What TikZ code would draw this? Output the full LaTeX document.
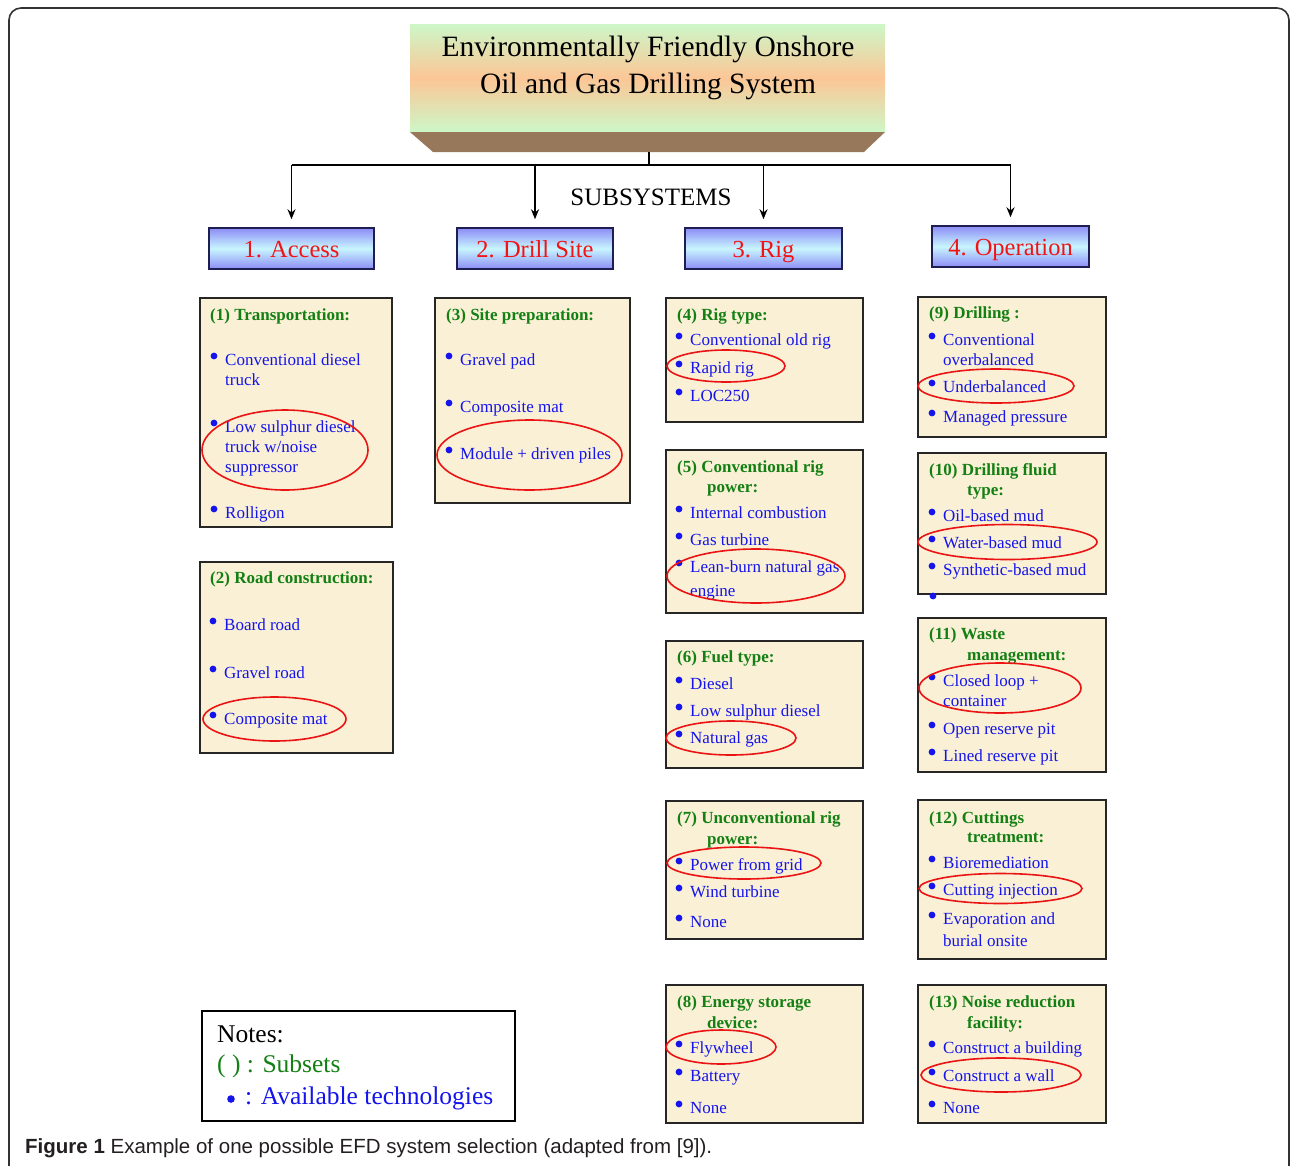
\documentclass[tikz,border=0pt]{standalone}
\usepackage{fontspec}
\setmainfont{Liberation Serif}
\newfontfamily\capfont{Liberation Sans}
\usetikzlibrary{arrows.meta}

\definecolor{subgreen}{RGB}{20,128,20}
\definecolor{techblue}{RGB}{20,20,235}
\definecolor{boxfill}{RGB}{250,240,214}
\definecolor{hdred}{RGB}{240,20,20}
\definecolor{hdblue}{RGB}{140,140,245}
\definecolor{hdcyan}{RGB}{200,246,255}
\definecolor{hdline}{RGB}{30,30,80}
\definecolor{ttlgreen}{RGB}{205,247,200}
\definecolor{ttlorange}{RGB}{252,198,150}
\definecolor{trap}{RGB}{152,120,90}
\definecolor{pickred}{RGB}{235,20,20}
\definecolor{capgray}{RGB}{35,31,32}

\tikzset{
  head/.style={draw=hdline, line width=1.5pt, top color=hdblue, bottom color=hdblue,
    middle color=hdcyan, text=hdred, font=\fontsize{24.5}{26}\selectfont, inner sep=0pt,
    text height=20pt, text depth=3pt},
  subbox/.style={draw=black!85, line width=1.5pt, fill=boxfill, anchor=north west, inner sep=0pt},
  subttl/.style={anchor=west, inner sep=0pt, text height=15pt, text depth=2pt,
    text=subgreen, font=\fontsize{17}{19}\selectfont\bfseries},
  tech/.style={anchor=west, inner sep=0pt, text height=15pt, text depth=2pt,
    text=techblue, font=\fontsize{17}{19}\selectfont},
  pick/.style={draw=pickred, line width=1.6pt},
}

% bullet + item: name, x, y, text
\newcommand{\tech}[4]{\fill[techblue] (#2-11,#3-3) circle (3.4); \node[tech] (#1) at (#2,#3) {#4};}

\begin{document}
\begin{tikzpicture}[x=1pt, y=-1pt, >={Stealth[length=10pt, width=8pt]}]
  \useasboundingbox (0,0) rectangle (1290,1165);
  \draw[line width=1.6pt, draw=black!80, rounded corners=12pt] (9,8) rectangle (1289,1200);

  % title
  \shade[top color=ttlgreen, bottom color=ttlgreen, middle color=ttlorange] (410,24) rectangle (885,132);
  \fill[trap] (410,132) -- (885,132) -- (864,152) -- (433,152) -- cycle;
  \node[align=center, inner sep=0pt, font=\fontsize{29.5}{37}\selectfont] (title) at (648,68)
    {Environmentally Friendly Onshore\\Oil and Gas Drilling System};
  \coordinate (tb) at (649,152);
  \coordinate (bar) at (649,165);

  \node[font=\fontsize{25}{27}\selectfont, inner sep=0pt] (subs) at (651,197) {SUBSYSTEMS};

  % subsystems
  \node[head, minimum width=165, minimum height=41] (h1) at (291.5,248.5) {1. Access};
  \node[head, minimum width=156, minimum height=41] (h2) at (535,248.5) {2. Drill Site};
  \node[head, minimum width=157, minimum height=41] (h3) at (763.5,248.5) {3. Rig};
  \node[head, minimum width=157, minimum height=41] (h4) at (1010.5,246.5) {4. Operation};

  \draw[line width=1.8pt] (tb) -- (bar);
  \draw[line width=1.8pt] (h1.north |- bar) -- (h4.north |- bar);
  \foreach \h in {h1,h2,h3,h4}
    \draw[->, line width=1.8pt, shorten >=8pt] (\h.north |- bar) -- (\h.north);

  % subset boxes
  \node[subbox, minimum width=192, minimum height=229] (s1) at (199,297) {};
  \node[subbox, minimum width=193, minimum height=191] (s2) at (199,561) {};
  \node[subbox, minimum width=195, minimum height=205] (s3) at (434,297) {};
  \node[subbox, minimum width=197, minimum height=124] (s4) at (665,297) {};
  \node[subbox, minimum width=197, minimum height=163] (s5) at (665,449) {};
  \node[subbox, minimum width=197, minimum height=127] (s6) at (665,640) {};
  \node[subbox, minimum width=197, minimum height=138] (s7) at (665,800) {};
  \node[subbox, minimum width=197, minimum height=138] (s8) at (665,984) {};
  \node[subbox, minimum width=188, minimum height=140] (s9) at (917,296) {};
  \node[subbox, minimum width=188, minimum height=141] (s10) at (917,452) {};
  \node[subbox, minimum width=188, minimum height=154] (s11) at (917,617) {};
  \node[subbox, minimum width=188, minimum height=159] (s12) at (917,799) {};
  \node[subbox, minimum width=188, minimum height=138] (s13) at (917,984) {};

  % (1)
  \node[subttl] (t1) at (210,314) {(1) Transportation:};
  \tech{a11}{225}{359}{Conventional diesel}
  \node[tech] (a11b) at (225,379) {truck};
  \tech{a12}{225}{426}{Low sulphur diesel}
  \node[tech] (a12b) at (225,446) {truck w/noise};
  \node[tech] (a12c) at (225,466) {suppressor};
  \tech{a13}{225}{512}{Rolligon}
  \draw[pick] (285,450) ellipse [x radius=83, y radius=40];

  % (2)
  \node[subttl] (t2) at (210,577) {(2) Road construction:};
  \tech{a21}{224}{624}{Board road}
  \tech{a22}{224}{672}{Gravel road}
  \tech{a23}{224}{718}{Composite mat}
  \draw[pick] (274.5,719) ellipse [x radius=71.5, y radius=22];

  % (3)
  \node[subttl] (t3) at (446,314) {(3) Site preparation:};
  \tech{b11}{460}{359}{Gravel pad}
  \tech{b12}{460}{406}{Composite mat}
  \tech{b13}{460}{453}{Module + driven piles}
  \draw[pick] (529.5,455) ellipse [x radius=92.5, y radius=35];

  % (4)
  \node[subttl] (t4) at (677,314) {(4) Rig type:};
  \tech{c11}{690}{339}{Conventional old rig}
  \tech{c12}{690}{367}{Rapid rig}
  \tech{c13}{690}{395}{LOC250}
  \draw[pick] (726,366) ellipse [x radius=59, y radius=16];

  % (5)
  \node[subttl] (t5) at (677,466) {(5) Conventional rig};
  \node[subttl] (t5b) at (707,486) {power:};
  \tech{c21}{690}{512}{Internal combustion}
  \tech{c22}{690}{539}{Gas turbine}
  \tech{c23}{690}{566}{Lean-burn natural gas}
  \node[tech] (c23b) at (690,590) {engine};
  \draw[pick] (756,576) ellipse [x radius=89, y radius=27];

  % (6)
  \node[subttl] (t6) at (677,656) {(6) Fuel type:};
  \tech{c31}{690}{683}{Diesel}
  \tech{c32}{690}{710}{Low sulphur diesel}
  \tech{c33}{690}{737}{Natural gas}
  \draw[pick] (731,738) ellipse [x radius=65, y radius=17];

  % (7)
  \node[subttl] (t7) at (677,817) {(7) Unconventional rig};
  \node[subttl] (t7b) at (707,838) {power:};
  \tech{c41}{690}{864}{Power from grid}
  \tech{c42}{690}{891}{Wind turbine}
  \tech{c43}{690}{921}{None}
  \draw[pick] (744,863) ellipse [x radius=77, y radius=16];

  % (8)
  \node[subttl] (t8) at (677,1001) {(8) Energy storage};
  \node[subttl] (t8b) at (707,1022) {device:};
  \tech{c51}{690}{1047}{Flywheel}
  \tech{c52}{690}{1075}{Battery}
  \tech{c53}{690}{1107}{None}
  \draw[pick] (721,1047) ellipse [x radius=55, y radius=17];

  % (9)
  \node[subttl] (t9) at (929,312) {(9) Drilling :};
  \tech{d11}{943}{339}{Conventional}
  \node[tech] (d11b) at (943,359) {overbalanced};
  \tech{d12}{943}{386}{Underbalanced}
  \tech{d13}{943}{416}{Managed pressure}
  \draw[pick] (996,386) ellipse [x radius=78, y radius=17];

  % (10)
  \node[subttl] (t10) at (929,469) {(10) Drilling fluid};
  \node[subttl] (t10b) at (967,489) {type:};
  \tech{d21}{943}{515}{Oil-based mud}
  \tech{d22}{943}{542}{Water-based mud}
  \tech{d23}{943}{569}{Synthetic-based mud}
  \fill[techblue] (933,596) circle (3.4);
  \draw[pick] (1007.5,542) ellipse [x radius=89.5, y radius=17.5];

  % (11)
  \node[subttl] (t11) at (929,633) {(11) Waste};
  \node[subttl] (t11b) at (967,654) {management:};
  \tech{d31}{943}{680}{Closed loop +}
  \node[tech] (d31b) at (943,700) {container};
  \tech{d32}{943}{728}{Open reserve pit}
  \tech{d33}{943}{755}{Lined reserve pit}
  \draw[pick] (1000,688) ellipse [x radius=81, y radius=25];

  % (12)
  \node[subttl] (t12) at (929,817) {(12) Cuttings};
  \node[subttl] (t12b) at (967,836) {treatment:};
  \tech{d41}{943}{862}{Bioremediation}
  \tech{d42}{943}{889}{Cutting injection}
  \tech{d43}{943}{918}{Evaporation and}
  \node[tech] (d43b) at (943,940) {burial onsite};
  \draw[pick] (1000.5,888.5) ellipse [x radius=81.5, y radius=15];

  % (13)
  \node[subttl] (t13) at (929,1001) {(13) Noise reduction};
  \node[subttl] (t13b) at (967,1022) {facility:};
  \tech{d51}{943}{1047}{Construct a building}
  \tech{d52}{943}{1075}{Construct a wall}
  \tech{d53}{943}{1107}{None}
  \draw[pick] (1001,1075) ellipse [x radius=80, y radius=17];

  % notes
  \node[draw=black, line width=1.5pt, fill=white, anchor=north west, minimum width=313,
    minimum height=110, inner sep=0pt] (notes) at (201,1010) {};
  \node[anchor=west, inner sep=0pt, font=\fontsize{25.5}{27}\selectfont] (n1) at (217,1034) {Notes:};
  \node[anchor=west, inner sep=0pt, text=subgreen, font=\fontsize{25.5}{27}\selectfont] (n2) at (217,1066) {( ) : Subsets};
  \fill[techblue] (231,1099) circle (3.8);
  \node[anchor=west, inner sep=0pt, text=techblue, font=\fontsize{25.5}{27}\selectfont] (n3) at (245,1098) {: Available technologies};

  % caption
  \node[anchor=west, inner sep=0pt, text=capgray, font=\capfont\fontsize{20.5}{22}\selectfont] (cap) at (25,1148)
    {\textbf{Figure 1} Example of one possible EFD system selection (adapted from [9]).};
\end{tikzpicture}
\end{document}
